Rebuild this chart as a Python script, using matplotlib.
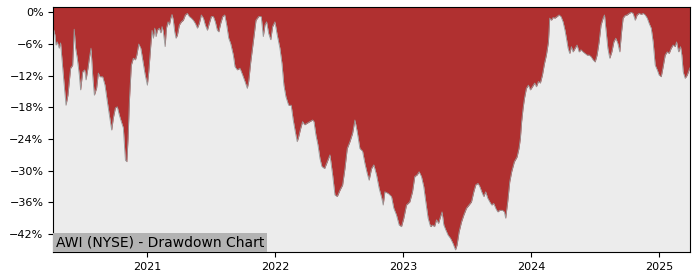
import matplotlib
matplotlib.use("Agg")
import matplotlib.pyplot as plt
import matplotlib.dates as mdates
from matplotlib.ticker import PercentFormatter, MultipleLocator
import pandas as pd

# dates as decimal years, drawdown in percent
years = [
    2020.269, 2020.282, 2020.290, 2020.300, 2020.315, 2020.326, 2020.336, 2020.352, 2020.368, 2020.383,
    2020.404, 2020.420, 2020.432, 2020.443, 2020.456, 2020.472, 2020.482, 2020.498, 2020.514, 2020.524,
    2020.539, 2020.550, 2020.563, 2020.576, 2020.589, 2020.607, 2020.620, 2020.633, 2020.654, 2020.672,
    2020.690, 2020.706, 2020.724, 2020.737, 2020.753, 2020.768, 2020.784, 2020.799, 2020.815, 2020.831,
    2020.842, 2020.852, 2020.862, 2020.877, 2020.893, 2020.909, 2020.920, 2020.935, 2020.951, 2020.966,
    2020.984, 2021.002, 2021.013, 2021.029, 2021.039, 2021.049, 2021.060, 2021.070, 2021.080, 2021.096,
    2021.107, 2021.117, 2021.127, 2021.141, 2021.151, 2021.164, 2021.174, 2021.185, 2021.195, 2021.205,
    2021.216, 2021.226, 2021.237, 2021.252, 2021.268, 2021.283, 2021.299, 2021.315, 2021.330, 2021.346,
    2021.361, 2021.377, 2021.393, 2021.408, 2021.424, 2021.440, 2021.455, 2021.471, 2021.486, 2021.502,
    2021.518, 2021.533, 2021.549, 2021.560, 2021.575, 2021.591, 2021.607, 2021.622, 2021.638, 2021.653,
    2021.674, 2021.687, 2021.705, 2021.726, 2021.747, 2021.765, 2021.783, 2021.794, 2021.810, 2021.830,
    2021.851, 2021.872, 2021.892, 2021.908, 2021.921, 2021.934, 2021.950, 2021.966, 2021.981, 2021.999,
    2022.017, 2022.038, 2022.054, 2022.069, 2022.085, 2022.106, 2022.126, 2022.142, 2022.158, 2022.173,
    2022.184, 2022.200, 2022.215, 2022.231, 2022.251, 2022.272, 2022.294, 2022.304, 2022.319, 2022.335,
    2022.351, 2022.366, 2022.387, 2022.405, 2022.429, 2022.450, 2022.468, 2022.486, 2022.507, 2022.528,
    2022.546, 2022.564, 2022.585, 2022.606, 2022.624, 2022.642, 2022.663, 2022.684, 2022.702, 2022.720,
    2022.735, 2022.754, 2022.772, 2022.793, 2022.813, 2022.834, 2022.845, 2022.858, 2022.884, 2022.910,
    2022.928, 2022.949, 2022.970, 2022.988, 2023.006, 2023.027, 2023.053, 2023.074, 2023.092, 2023.110,
    2023.126, 2023.144, 2023.162, 2023.178, 2023.196, 2023.215, 2023.230, 2023.246, 2023.262, 2023.277,
    2023.293, 2023.305, 2023.319, 2023.334, 2023.352, 2023.371, 2023.391, 2023.410, 2023.422, 2023.438,
    2023.457, 2023.475, 2023.496, 2023.516, 2023.535, 2023.553, 2023.568, 2023.586, 2023.600, 2023.615,
    2023.631, 2023.646, 2023.662, 2023.678, 2023.693, 2023.709, 2023.724, 2023.740, 2023.756, 2023.777,
    2023.792, 2023.802, 2023.818, 2023.834, 2023.849, 2023.870, 2023.891, 2023.906, 2023.917, 2023.927,
    2023.938, 2023.949, 2023.964, 2023.980, 2023.995, 2024.011, 2024.029, 2024.042, 2024.058, 2024.073,
    2024.089, 2024.105, 2024.120, 2024.136, 2024.146, 2024.159, 2024.172, 2024.187, 2024.203, 2024.219,
    2024.234, 2024.250, 2024.265, 2024.276, 2024.289, 2024.302, 2024.315, 2024.328, 2024.344, 2024.359,
    2024.375, 2024.390, 2024.406, 2024.422, 2024.437, 2024.453, 2024.468, 2024.484, 2024.500, 2024.515,
    2024.531, 2024.546, 2024.562, 2024.573, 2024.583, 2024.599, 2024.614, 2024.630, 2024.646, 2024.661,
    2024.677, 2024.692, 2024.706, 2024.718, 2024.734, 2024.749, 2024.765, 2024.781, 2024.796, 2024.812,
    2024.827, 2024.843, 2024.859, 2024.874, 2024.890, 2024.906, 2024.921, 2024.937, 2024.952, 2024.968,
    2024.984, 2024.999, 2025.015, 2025.030, 2025.046, 2025.062, 2025.077, 2025.093, 2025.108, 2025.124,
    2025.135, 2025.151, 2025.166, 2025.176, 2025.187, 2025.202, 2025.218, 2025.233, 2025.240,
]
drawdown = [
    -3.0, -4.3, -6.2, -5.6, -6.8, -5.8, -8.7, -13.2, -17.6, -15.7,
    -10.6, -10.0, -3.2, -6.8, -8.7, -11.9, -14.7, -11.3, -10.9, -12.8,
    -10.6, -8.7, -6.8, -11.9, -15.7, -14.3, -11.5, -12.2, -12.2, -13.8,
    -16.9, -19.5, -22.3, -20.0, -18.1, -17.9, -19.5, -20.7, -21.9, -28.0,
    -28.3, -23.8, -16.9, -10.0, -8.7, -9.0, -8.1, -6.0, -6.8, -9.0,
    -11.7, -13.8, -11.3, -6.2, -3.4, -4.9, -3.0, -4.6, -3.4, -3.0,
    -3.9, -2.7, -3.7, -6.5, -3.0, -1.8, -2.4, -1.1, -0.4, -1.5,
    -3.7, -4.9, -4.3, -2.4, -1.8, -1.5, -0.5, -0.2, -0.8, -1.1,
    -1.5, -2.1, -3.0, -2.1, -0.5, -1.1, -2.4, -3.4, -2.1, -0.8,
    -0.8, -1.8, -3.4, -3.7, -2.1, -0.8, -0.5, -2.4, -4.9, -5.9,
    -8.1, -10.3, -10.9, -10.6, -11.9, -13.1, -14.4, -13.1, -9.4, -5.6,
    -1.5, -0.8, -0.8, -4.6, -2.4, -1.8, -4.0, -5.2, -2.7, -1.8,
    -4.3, -6.8, -9.7, -13.8, -16.0, -17.6, -17.6, -20.4, -22.6, -24.5,
    -23.6, -22.0, -20.7, -21.3, -21.0, -20.7, -20.4, -20.7, -23.2, -25.1,
    -27.7, -29.2, -29.6, -28.5, -27.0, -30.8, -34.6, -34.9, -33.7, -32.7,
    -29.6, -25.8, -24.5, -22.9, -20.4, -22.6, -25.8, -26.3, -28.6, -30.5,
    -31.8, -29.6, -28.9, -30.8, -33.3, -35.2, -36.5, -34.0, -34.3, -34.9,
    -37.1, -38.4, -40.3, -40.6, -39.0, -36.5, -35.9, -34.0, -31.1, -30.8,
    -30.2, -31.1, -33.0, -35.9, -39.0, -40.6, -40.3, -40.6, -39.3, -40.0,
    -38.7, -37.8, -40.3, -41.2, -42.2, -42.8, -43.8, -45.0, -44.1, -41.6,
    -39.7, -38.4, -37.1, -36.5, -35.9, -34.0, -32.7, -32.4, -33.0, -34.0,
    -34.9, -34.0, -35.2, -35.9, -36.5, -36.2, -37.1, -37.8, -37.5, -37.5,
    -37.8, -39.0, -35.9, -32.1, -30.2, -28.3, -27.4, -25.8, -23.9, -20.7,
    -18.2, -16.3, -14.4, -13.8, -14.7, -14.1, -13.4, -14.1, -13.1, -13.4,
    -11.9, -9.7, -8.1, -5.6, -1.1, -1.5, -1.0, -1.1, -0.8, -0.5,
    -0.8, -1.8, -3.4, -4.9, -6.8, -7.8, -6.5, -7.5, -6.8, -6.2,
    -7.5, -7.1, -7.5, -7.8, -8.1, -8.1, -8.4, -9.0, -9.4, -8.1,
    -5.6, -2.4, -1.1, -0.5, -3.0, -6.8, -8.7, -7.5, -5.6, -4.9,
    -5.9, -7.5, -3.7, -1.1, -0.6, -0.5, -0.2, 0.0, -0.2, -1.5,
    -0.5, -0.2, -0.4, -0.2, -0.5, -1.1, -2.1, -3.0, -5.6, -10.0,
    -10.9, -11.9, -12.2, -10.3, -8.1, -7.5, -7.8, -6.8, -6.2, -6.5,
    -5.6, -7.5, -6.5, -8.1, -11.3, -12.5, -11.9, -10.9, -10.5,
]
title = "AWI (NYSE) - Drawdown Chart"


def to_date(y):
    start = pd.Timestamp(int(y), 1, 1)
    end = pd.Timestamp(int(y) + 1, 1, 1)
    return start + (end - start) * (y - int(y))


dates = [to_date(y) for y in years]
y_top = 1.06

fig = plt.figure(figsize=(7, 2.8), dpi=100)
ax = fig.add_axes([0.0761, 0.0989, 0.9096, 0.8771])
ax.set_facecolor("#ececec")

# red fill runs from the curve all the way up to the top of the axes
ax.fill_between(dates, drawdown, y_top + 1, color="#b03030", lw=0)
ax.plot(dates, drawdown, color="#999999", lw=0.6)

ax.set_xlim(dates[0], dates[-1])
ax.set_ylim(-45.46, y_top)
ax.yaxis.set_major_locator(MultipleLocator(6))
ax.yaxis.set_major_formatter(PercentFormatter(xmax=100, decimals=0))
ax.xaxis.set_major_locator(mdates.YearLocator())
ax.xaxis.set_major_formatter(mdates.DateFormatter("%Y"))
ax.tick_params(labelsize=8)

ax.annotate(title, xy=(0, 0), xycoords="axes fraction", xytext=(2, 2),
            textcoords="offset points", ha="left", va="bottom", fontsize=10,
            bbox=dict(boxstyle="square,pad=0.2", facecolor="#b3b3b3", edgecolor="none"))

fig.savefig("out.png", dpi=100)
